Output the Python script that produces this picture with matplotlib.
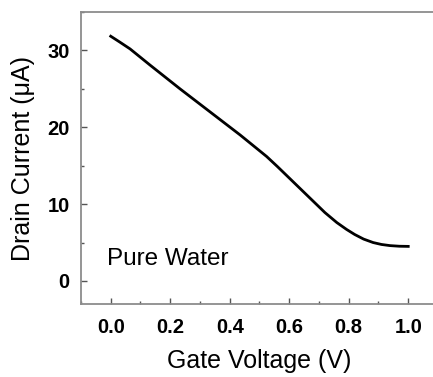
import numpy as np
import matplotlib
matplotlib.use("Agg")
import matplotlib.pyplot as plt
from matplotlib.ticker import MultipleLocator

# Transfer curve
gate_v = [0.0, 0.03, 0.065, 0.132, 0.233, 0.334, 0.435, 0.524, 0.56, 0.6,
          0.64, 0.68, 0.72, 0.76, 0.793, 0.82, 0.85, 0.882, 0.91, 0.939,
          0.97, 1.0]
drain_i = [31.85, 31.1, 30.2, 28.1, 25.0, 22.0, 19.0, 16.2, 14.9, 13.4,
           11.9, 10.4, 8.9, 7.6, 6.7, 6.05, 5.45, 5.0, 4.75, 4.6,
           4.52, 4.5]

x_ticks = [0.0, 0.2, 0.4, 0.6, 0.8, 1.0]
y_ticks = [0, 10, 20, 30]

plt.rcParams['font.family'] = ['Liberation Sans', 'DejaVu Sans']

fig = plt.figure(figsize=(4.33, 3.77), dpi=100)
ax = fig.add_axes([0.187, 0.1936, 0.8245, 0.7745])

ax.plot(gate_v, drain_i, color='black', lw=2.0)

ax.set_xlim(-0.1, 1.1)
ax.set_ylim(-3, 35)
ax.set_xticks(x_ticks)
ax.set_yticks(y_ticks)
ax.xaxis.set_minor_locator(MultipleLocator(0.1))
ax.yaxis.set_minor_locator(MultipleLocator(5))
ax.set_xticklabels(["%.1f" % v for v in x_ticks], fontsize=14.5, fontweight='bold')
ax.set_yticklabels([str(v) for v in y_ticks], fontsize=14.5, fontweight='bold')

spine_col = '#8c8c8c'
for s in ['left', 'bottom', 'top']:
    ax.spines[s].set_color(spine_col)
    ax.spines[s].set_linewidth(1.3)
ax.spines['right'].set_visible(False)

ax.tick_params(which='major', direction='in', length=4, width=1.0, color='#555555', pad=8)
ax.tick_params(which='minor', direction='in', length=2, width=1.0, color='#555555')
ax.tick_params(axis='x', which='major', pad=10)

ax.set_xlabel("Gate Voltage (V)", fontsize=18, labelpad=9)
ax.set_ylabel("Drain Current (\u03bcA)", fontsize=18, labelpad=9)

ax.text(-0.012, 2.85, "Pure Water", fontsize=17.5, va='center', ha='left')

fig.savefig("out.png", dpi=100)
